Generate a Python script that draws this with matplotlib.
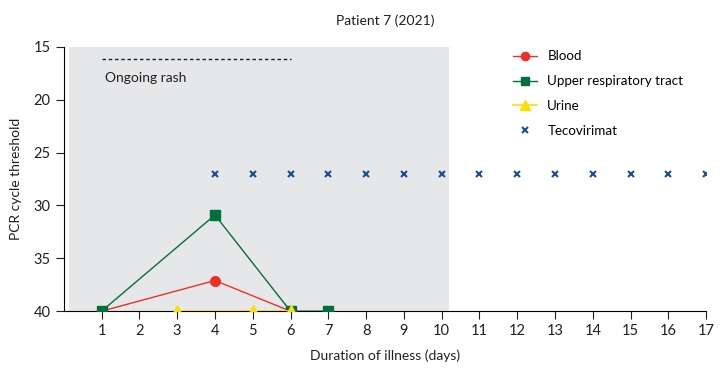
import matplotlib.pyplot as plt

# Datos
blood_days = [1, 4, 6]
blood_ct = [40, 37.1, 40]
urt_days = [1, 4, 6, 7]
urt_ct = [40, 30.9, 40, 40]
urine_days = [3, 5, 6]
urine_ct = [40, 40, 40]
tecovirimat_days = list(range(4, 18))
tecovirimat_y = [27] * len(tecovirimat_days)
rash_start, rash_end, rash_y = 1, 6, 16.1
shade_start, shade_end = 0.15, 10.2

plt.rcParams['font.family'] = ['Lato', 'DejaVu Sans']
plt.rcParams['font.size'] = 10

fig = plt.figure(figsize=(7.25, 3.7), dpi=100)
ax = fig.add_axes([0.088, 0.159, 0.886, 0.714])

ax.axvspan(shade_start, shade_end, color='#e6e7e8', lw=0, zorder=0)
ax.plot([rash_start, rash_end], [rash_y, rash_y], ls=(0, (2.5, 2)), color='#231f20', lw=1)
ax.text(1.1, 17.9, "Ongoing rash", fontsize=10, va='center', color='#231f20')

ax.plot(blood_days, blood_ct, color='#ee3124', lw=1, marker='o', ms=7, label="Blood", zorder=3)
ax.plot(urt_days, urt_ct, color='#00703c', lw=1, marker='s', ms=7, label="Upper respiratory tract", zorder=4)
ax.plot(urine_days, urine_ct, color='#ffdd00', lw=1.2, marker='^', ms=8, label="Urine", zorder=5)
ax.plot(tecovirimat_days, tecovirimat_y, ls='none', marker='x', ms=4.5, mew=1.5,
        color='#1d4f91', label="Tecovirimat", zorder=3)

ax.set_xlim(0, 17)
ax.set_ylim(40, 15)
ax.set_xticks(range(1, 18))
ax.set_yticks([15, 20, 25, 30, 35, 40])
ax.tick_params(length=5.5, pad=4, labelsize=10.5, color='#231f20', labelcolor='#231f20')
ax.spines['top'].set_visible(False)
ax.spines['right'].set_visible(False)

ax.set_xlabel("Duration of illness (days)", color='#231f20', labelpad=8)
ax.set_ylabel("PCR cycle threshold", color='#231f20', labelpad=8)
ax.set_title("Patient 7 (2021)", color='#231f20', fontsize=10, pad=16)

leg = ax.legend(loc='upper left', bbox_to_anchor=(0.68, 1.033), frameon=False,
                handlelength=1.8, handletextpad=0.8, labelspacing=0.97, fontsize=9.6,
                markerscale=0.85)

fig.savefig("out.png", dpi=100)
